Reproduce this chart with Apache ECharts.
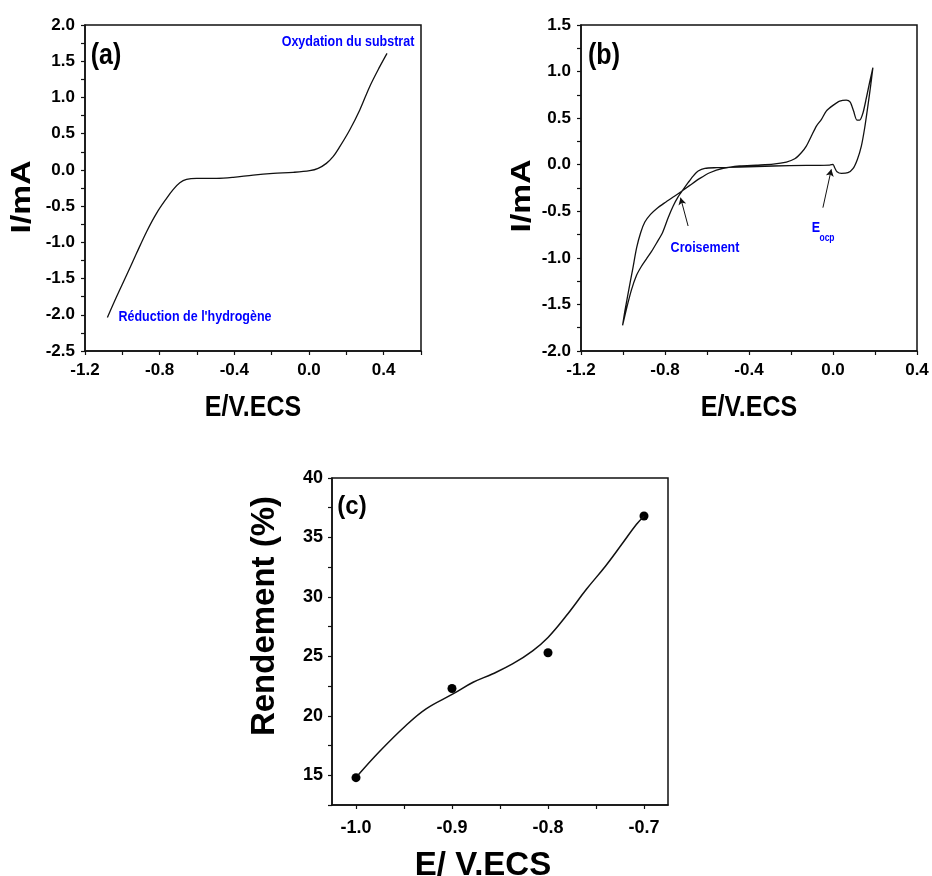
<!DOCTYPE html>
<html>
<head>
<meta charset="utf-8">
<script src="https://cdn.jsdelivr.net/npm/echarts@6/dist/echarts.min.js"></script>
<style>
  html, body { margin: 0; padding: 0; background: #ffffff; }
  #chart { width: 932px; height: 876px; }
</style>
</head>
<body>
<div id="chart"></div>
<script>
// ---- (a) polarisation curve: potential (V/ECS) and current (mA) ----
const potentialA = [-1.080, -1.031, -0.977, -0.924, -0.870, -0.817, -0.763, -0.727, -0.692, -0.656,
  -0.602, -0.495, -0.406, -0.299, -0.192, -0.085, 0.004, 0.049, 0.093, 0.129,
  0.165, 0.218, 0.272, 0.325, 0.379, 0.418];
const currentA = [-2.036, -1.751, -1.451, -1.152, -0.853, -0.600, -0.393, -0.269, -0.177, -0.131,
  -0.117, -0.117, -0.103, -0.071, -0.048, -0.034, -0.011, 0.021, 0.090, 0.182,
  0.320, 0.550, 0.827, 1.149, 1.425, 1.609];

// ---- (b) cyclic voltammogram, points in sweep order (closed loop) ----
const potentialB = [-1.002, -0.991, -0.975, -0.954, -0.935, -0.916, -0.896, -0.869, -0.840, -0.801,
  -0.761, -0.726, -0.682, -0.634, -0.587, -0.523, -0.444, -0.365, -0.285, -0.222,
  -0.182, -0.151, -0.127, -0.103, -0.079, -0.055, -0.032, 0.000, 0.032, 0.063,
  0.082, 0.098, 0.114, 0.127, 0.143, 0.159, 0.174, 0.190,
  0.179, 0.166, 0.151, 0.135, 0.116, 0.095, 0.071, 0.040, 0.019, 0.008,
  0.000, -0.016, -0.127, -0.285, -0.444, -0.555, -0.610, -0.642, -0.666, -0.690,
  -0.713, -0.737, -0.761, -0.785, -0.812, -0.840, -0.864, -0.888, -0.912, -0.935,
  -0.959, -0.980, -1.002];
const currentB = [-1.724, -1.570, -1.373, -1.123, -0.891, -0.730, -0.615, -0.533, -0.472, -0.408,
  -0.347, -0.293, -0.222, -0.147, -0.086, -0.039, -0.014, -0.004, 0.007, 0.029,
  0.064, 0.129, 0.200, 0.308, 0.415, 0.486, 0.576, 0.637, 0.683, 0.694,
  0.672, 0.576, 0.479, 0.479, 0.558, 0.719, 0.880, 1.041,
  0.844, 0.629, 0.397, 0.200, 0.057, -0.043, -0.086, -0.093, -0.075, -0.032,
  0.004, -0.004, -0.007, -0.014, -0.025, -0.032, -0.039, -0.068, -0.122, -0.193,
  -0.265, -0.343, -0.443, -0.569, -0.730, -0.840, -0.930, -1.010, -1.090, -1.185,
  -1.338, -1.516, -1.724];

// ---- (c) yield against electrolysis potential ----
const potentialC = [-1.0, -0.9, -0.8, -0.7];
const yieldC = [14.8, 22.3, 25.3, 36.8];
// fitted trend line
const fitPotentialC = [-0.998, -0.976, -0.948, -0.927, -0.899, -0.878, -0.858, -0.837, -0.816, -0.800,
  -0.781, -0.760, -0.740, -0.722, -0.708, -0.700];
const fitYieldC = [15.0, 16.96, 19.19, 20.59, 21.84, 22.82, 23.52, 24.36, 25.47, 26.59,
  28.41, 30.64, 32.60, 34.55, 36.09, 36.79];

// ---- axis ticks and labels ----
const ticksAX = [-1.2, -1.0, -0.8, -0.6, -0.4, -0.2, 0.0, 0.2, 0.4, 0.6];
const labelsAX = [-1.2, -0.8, -0.4, 0.0, 0.4];
const ticksAY = [-2.5, -2.25, -2.0, -1.75, -1.5, -1.25, -1.0, -0.75, -0.5, -0.25, 0.0, 0.25, 0.5, 0.75, 1.0, 1.25, 1.5, 1.75, 2.0];
const labelsAY = [-2.5, -2.0, -1.5, -1.0, -0.5, 0.0, 0.5, 1.0, 1.5, 2.0];
const ticksBX = [-1.2, -1.0, -0.8, -0.6, -0.4, -0.2, 0.0, 0.2, 0.4];
const labelsBX = [-1.2, -0.8, -0.4, 0.0, 0.4];
const ticksBY = [-2.0, -1.75, -1.5, -1.25, -1.0, -0.75, -0.5, -0.25, 0.0, 0.25, 0.5, 0.75, 1.0, 1.25, 1.5];
const labelsBY = [-2.0, -1.5, -1.0, -0.5, 0.0, 0.5, 1.0, 1.5];
const ticksCX = [-1.0, -0.95, -0.9, -0.85, -0.8, -0.75, -0.7];
const labelsCX = [-1.0, -0.9, -0.8, -0.7];
const ticksCY = [12.5, 15, 17.5, 20, 22.5, 25, 27.5, 30, 32.5, 35, 37.5, 40];
const labelsCY = [15, 20, 25, 30, 35, 40];

const FONT = '"Liberation Sans", Arial, Helvetica, sans-serif';
const INK = '#111111';
const BLUE = '#0000ff';

const zip = (xs, ys) => xs.map((x, i) => [x, ys[i]]);

function axis(gridIndex, min, max, ticks, labels, digits, size, margin) {
  return {
    type: 'value', gridIndex, min, max,
    axisLine: { show: true, onZero: false, lineStyle: { color: INK, width: 1.5 } },
    axisTick: { show: true, inside: false, length: 4, customValues: ticks, lineStyle: { color: INK, width: 1.2 } },
    axisLabel: {
      show: true, customValues: labels, margin,
      color: '#000', fontFamily: FONT, fontWeight: 'bold', fontSize: size,
      formatter: v => Number(v).toFixed(digits)
    },
    splitLine: { show: false }
  };
}

// text drawn with a vertical stretch (sx/sy scale factors)
function label(x, y, text, size, color, opts) {
  const o = opts || {};
  return {
    type: 'text', x, y,
    rotation: o.rotation || 0,
    scaleX: o.sx || 1, scaleY: o.sy || 1,
    style: { text, fill: color, font: 'bold ' + size + 'px ' + FONT, align: o.align || 'center', verticalAlign: 'middle' }
  };
}

const gridStyle = { show: true, borderColor: INK, borderWidth: 1.5, backgroundColor: 'transparent' };

const option = {
  animation: false,
  backgroundColor: '#ffffff',
  grid: [
    Object.assign({ left: 85, top: 25, width: 336, height: 326 }, gridStyle),
    Object.assign({ left: 581, top: 25, width: 336, height: 326 }, gridStyle),
    Object.assign({ left: 332, top: 478, width: 336, height: 327 }, gridStyle)
  ],
  xAxis: [
    axis(0, -1.2, 0.6, ticksAX, labelsAX, 1, 17, 11),
    axis(1, -1.2, 0.4, ticksBX, labelsBX, 1, 17, 11),
    axis(2, -1.025, -0.675, ticksCX, labelsCX, 1, 18, 14)
  ],
  yAxis: [
    axis(0, -2.5, 2.0, ticksAY, labelsAY, 1, 17, 10),
    axis(1, -2.0, 1.5, ticksBY, labelsBY, 1, 17, 10),
    axis(2, 12.5, 40, ticksCY, labelsCY, 0, 18, 9)
  ],
  series: [
    {
      type: 'line', xAxisIndex: 0, yAxisIndex: 0,
      data: zip(potentialA, currentA),
      showSymbol: false, smooth: 0.35,
      lineStyle: { color: INK, width: 1.3 }
    },
    {
      type: 'line', xAxisIndex: 1, yAxisIndex: 1,
      data: zip(potentialB, currentB),
      showSymbol: false, smooth: 0.25,
      lineStyle: { color: INK, width: 1.3 },
      markLine: {
        silent: true, animation: false,
        symbol: ['none', 'arrow'], symbolSize: [6, 7],
        lineStyle: { color: INK, width: 1, type: 'solid' },
        label: { show: false },
        data: [
          [{ coord: [-0.690, -0.658] }, { coord: [-0.726, -0.354] }],
          [{ coord: [-0.048, -0.461] }, { coord: [-0.008, -0.050] }]
        ]
      }
    },
    {
      type: 'line', xAxisIndex: 2, yAxisIndex: 2,
      data: zip(fitPotentialC, fitYieldC),
      showSymbol: false, smooth: 0.4,
      lineStyle: { color: INK, width: 1.5 }
    },
    {
      type: 'scatter', xAxisIndex: 2, yAxisIndex: 2,
      data: zip(potentialC, yieldC),
      symbol: 'circle', symbolSize: 9,
      itemStyle: { color: '#000', opacity: 1 }
    }
  ],
  graphic: [
    // panel letters
    label(106, 56, '(a)', 25, '#000', { sy: 1.2 }),
    label(604, 56, '(b)', 25, '#000', { sy: 1.2 }),
    label(352, 507, '(c)', 24, '#000', { sy: 1.1 }),
    // axis titles
    label(253, 408, 'E/V.ECS', 25, '#000', { sy: 1.2 }),
    label(749, 408, 'E/V.ECS', 25, '#000', { sy: 1.2 }),
    label(483, 866, 'E/ V.ECS', 33, '#000'),
    label(22, 197, 'I/mA', 28, '#000', { rotation: Math.PI / 2, sx: 1.2 }),
    label(522, 196, 'I/mA', 28, '#000', { rotation: Math.PI / 2, sx: 1.2 }),
    label(265, 616, 'Rendement (%)', 33, '#000', { rotation: Math.PI / 2 }),
    // annotations
    label(348, 42, 'Oxydation du substrat', 12.5, BLUE, { sy: 1.2 }),
    label(195, 317, "Réduction de l'hydrogène", 12.5, BLUE, { sy: 1.2 }),
    label(705, 248, 'Croisement', 12.5, BLUE, { sy: 1.2 }),
    label(816, 228, 'E', 12.5, BLUE, { sy: 1.2 }),
    label(827, 238, 'ocp', 8.5, BLUE, { sy: 1.2 })
  ]
};

const chart = echarts.init(document.getElementById('chart'), null, { renderer: 'canvas' });
chart.setOption(option);
</script>
</body>
</html>
